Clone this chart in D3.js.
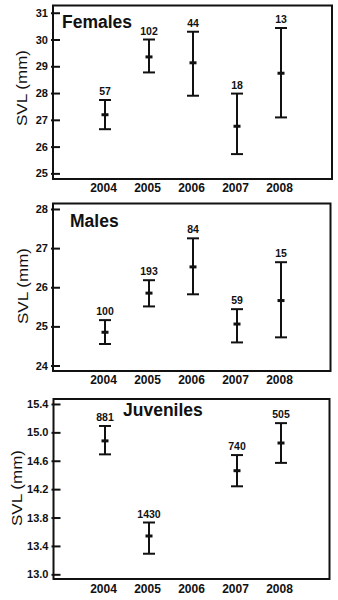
<!DOCTYPE html>
<html>
<head>
<meta charset="utf-8">
<script src="https://cdn.jsdelivr.net/npm/d3@7"></script>
<style>
  html, body { margin: 0; padding: 0; background: #fff; }
  svg { display: block; }
  text { font-family: "Liberation Sans", Arial, sans-serif; fill: #111; }
</style>
</head>
<body>
<svg id="chart" width="338" height="600"></svg>
<script>
// ---- data ----
const years = ["2004", "2005", "2006", "2007", "2008"];

const femaleMean = [27.19, 29.35, 29.13, 26.76, 28.74];
const femaleLow  = [26.65, 28.77, 27.90, 25.72, 27.09];
const femaleHigh = [27.74, 30.00, 30.29, 27.98, 30.43];
const femaleN    = [57, 102, 44, 18, 13];
const femaleTicks = [25, 26, 27, 28, 29, 30, 31];

const maleMean = [24.85, 25.85, 26.52, 25.06, 25.66];
const maleLow  = [24.55, 25.51, 25.82, 24.59, 24.72];
const maleHigh = [25.16, 26.18, 27.25, 25.44, 26.64];
const maleN    = [100, 193, 84, 59, 15];
const maleTicks = [24, 25, 26, 27, 28];

const juvMean = [14.88, 13.54, null, 14.46, 14.85];
const juvLow  = [14.69, 13.29, null, 14.24, 14.57];
const juvHigh = [15.09, 13.73, null, 14.68, 15.13];
const juvN    = [881, 1430, null, 740, 505];
const juvTicks = [13.0, 13.4, 13.8, 14.2, 14.6, 15.0, 15.4];

const panels = [
  { title: "Females", mean: femaleMean, low: femaleLow, high: femaleHigh, n: femaleN,
    ticks: femaleTicks, fmt: d3.format("d"), domain: [24.79, 31.27],
    left: 53, right: 332, top: 5.5, bottom: 179, titleX: 62, titleY: 28.3,
    yearY: 192, labelX: 27, labelCY: 88 },
  { title: "Males", mean: maleMean, low: maleLow, high: maleHigh, n: maleN,
    ticks: maleTicks, fmt: d3.format("d"), domain: [23.86, 28.14],
    left: 53, right: 330.5, top: 203.5, bottom: 371, titleX: 70, titleY: 226.7,
    yearY: 384, labelX: 28, labelCY: 286 },
  { title: "Juveniles", mean: juvMean, low: juvLow, high: juvHigh, n: juvN,
    ticks: juvTicks, fmt: d3.format(".1f"), domain: [12.934, 15.47],
    left: 53.5, right: 329.5, top: 399, bottom: 579, titleX: 123, titleY: 415.7,
    yearY: 593, labelX: 22, labelCY: 488 }
];

const svg = d3.select("#chart");
const x = d3.scalePoint().domain(years).range([105, 281]);

panels.forEach(p => {
  const g = svg.append("g");
  const y = d3.scaleLinear().domain(p.domain).range([p.bottom, p.top]);

  // y axis with ticks
  const ax = g.append("g")
    .attr("transform", `translate(${p.left},0)`)
    .call(d3.axisLeft(y).tickValues(p.ticks).tickFormat(p.fmt).tickSize(-7).tickPadding(5));
  ax.select(".domain").remove();
  ax.selectAll(".tick line").attr("x1", -2).attr("x2", 7).attr("stroke", "#111").attr("stroke-width", 2);
  ax.selectAll(".tick text")
    .style("font-family", "'Liberation Sans', Arial, sans-serif")
    .style("font-weight", "bold").style("font-size", "11px").attr("fill", "#111");

  // frame
  g.append("rect")
    .attr("x", p.left).attr("y", p.top)
    .attr("width", p.right - p.left).attr("height", p.bottom - p.top)
    .attr("fill", "none").attr("stroke", "#111").attr("stroke-width", 2);

  // title
  g.append("text")
    .attr("x", p.titleX).attr("y", p.titleY)
    .style("font-weight", "bold").style("font-size", "17.5px")
    .text(p.title);

  // y label
  g.append("text")
    .attr("transform", `translate(${p.labelX},${p.labelCY}) rotate(-90)`)
    .attr("text-anchor", "middle")
    .style("font-size", "14px")
    .attr("textLength", 76).attr("lengthAdjust", "spacingAndGlyphs")
    .text("SVL  (mm)");

  // year labels
  g.selectAll(".yr").data(years).enter().append("text")
    .attr("x", d => x(d) - 1.5).attr("y", p.yearY)
    .attr("text-anchor", "middle")
    .style("font-weight", "bold").style("font-size", "12px")
    .text(d => d);

  const rows = years.map((yr, i) => ({ yr, m: p.mean[i], lo: p.low[i], hi: p.high[i], n: p.n[i] }))
    .filter(d => d.m !== null);

  const eb = g.selectAll(".eb").data(rows).enter().append("g");
  eb.append("line")
    .attr("x1", d => x(d.yr)).attr("x2", d => x(d.yr))
    .attr("y1", d => y(d.lo)).attr("y2", d => y(d.hi))
    .attr("stroke", "#111").attr("stroke-width", 2);
  eb.append("line")
    .attr("x1", d => x(d.yr) - 6).attr("x2", d => x(d.yr) + 6)
    .attr("y1", d => y(d.hi)).attr("y2", d => y(d.hi))
    .attr("stroke", "#111").attr("stroke-width", 2);
  eb.append("line")
    .attr("x1", d => x(d.yr) - 6).attr("x2", d => x(d.yr) + 6)
    .attr("y1", d => y(d.lo)).attr("y2", d => y(d.lo))
    .attr("stroke", "#111").attr("stroke-width", 2);
  eb.append("line")
    .attr("x1", d => x(d.yr) - 3.5).attr("x2", d => x(d.yr) + 3.5)
    .attr("y1", d => y(d.m)).attr("y2", d => y(d.m))
    .attr("stroke", "#111").attr("stroke-width", 3);
  eb.append("text")
    .attr("x", d => x(d.yr)).attr("y", d => y(d.hi) - 5)
    .attr("text-anchor", "middle")
    .style("font-weight", "bold").style("font-size", "10.5px")
    .text(d => d.n);
});
</script>
</body>
</html>
